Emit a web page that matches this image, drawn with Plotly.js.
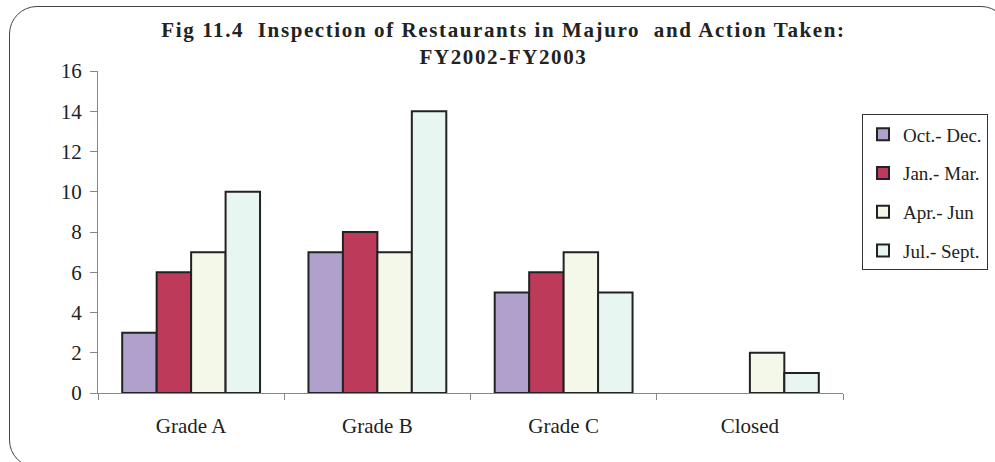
<!DOCTYPE html>
<html>
<head>
<meta charset="utf-8">
<script src="https://cdn.plot.ly/plotly-3.0.1.min.js"></script>
<style>
  html, body { margin: 0; padding: 0; background: #fff; overflow: hidden; }
  #wrap { position: relative; width: 995px; height: 462px; overflow: hidden; }
  #chart { width: 995px; height: 462px; }
  #frame { position: absolute; left: 9px; top: 6px; width: 1000px; height: 462px;
           border: 1.5px solid #444; border-radius: 28px; pointer-events: none; box-sizing: border-box; }
  #chart .gtitle { letter-spacing: 1.6px; }
</style>
</head>
<body>
<div id="wrap">
  <div id="chart"></div>
  <div id="frame"></div>
</div>
<script>
const categories = ["Grade A", "Grade B", "Grade C", "Closed"];
const seriesNames = ["Oct.- Dec.", "Jan.- Mar.", "Apr.- Jun", "Jul.- Sept."];
const octDec  = [3, 7, 5, 0];
const janMar  = [6, 8, 6, 0];
const aprJun  = [7, 7, 7, 2];
const julSept = [10, 14, 5, 1];
const yTicks = [0, 2, 4, 6, 8, 10, 12, 14, 16];

const colors = ["#B0A0CC", "#BE3A5A", "#F4F8E8", "#E8F6F2"];
const values = [octDec, janMar, aprJun, julSept];

const traces = values.map((v, i) => ({
  type: "bar",
  name: seriesNames[i],
  x: categories,
  y: v,
  legendgroup: "g" + i,
  marker: { color: colors[i], line: { color: "#222", width: v.map(d => d === 0 ? 0 : 2) } },
  hoverinfo: "x+y+name"
}));

const font = "'Liberation Serif', 'Times New Roman', serif";

const layout = {
  width: 995, height: 462,
  margin: { l: 98, r: 152, t: 71, b: 69, autoexpand: false },
  paper_bgcolor: "#fff", plot_bgcolor: "#fff",
  font: { family: font, size: 21, color: "#222" },
  title: {
    text: "<b>Fig 11.4  Inspection of Restaurants in Majuro  and Action Taken:<br>FY2002-FY2003</b>",
    font: { family: font, size: 21, color: "#222" },
    x: 0.506, xref: "container", xanchor: "center",
    y: 0.92, yref: "container", yanchor: "top"
  },
  barmode: "group",
  bargap: 0.26,
  bargroupgap: 0,
  showlegend: true,
  legend: {
    x: 1.0255, xanchor: "left", y: 0.865, yanchor: "top",
    bordercolor: "#333", borderwidth: 1,
    font: { family: font, size: 19, color: "#222" },
    tracegroupgap: 11,
    itemwidth: 30,
    traceorder: "grouped"
  },
  xaxis: {
    type: "category",
    showline: true, linecolor: "#888", linewidth: 1,
    ticks: "outside", tickson: "boundaries", ticklen: 6, tickcolor: "#888",
    ticklabelstandoff: 14,
    showgrid: false, zeroline: false,
    tickfont: { family: font, size: 21, color: "#222" }
  },
  yaxis: {
    range: [0, 16],
    tickvals: yTicks,
    ticktext: yTicks.map(String),
    showline: true, linecolor: "#888", linewidth: 1,
    ticks: "outside", ticklen: 7, tickcolor: "#888",
    ticklabelstandoff: 4,
    showgrid: false, zeroline: false,
    tickfont: { family: font, size: 21, color: "#222" }
  }
};

Plotly.newPlot("chart", traces, layout, { displayModeBar: false, staticPlot: true });
</script>
</body>
</html>
